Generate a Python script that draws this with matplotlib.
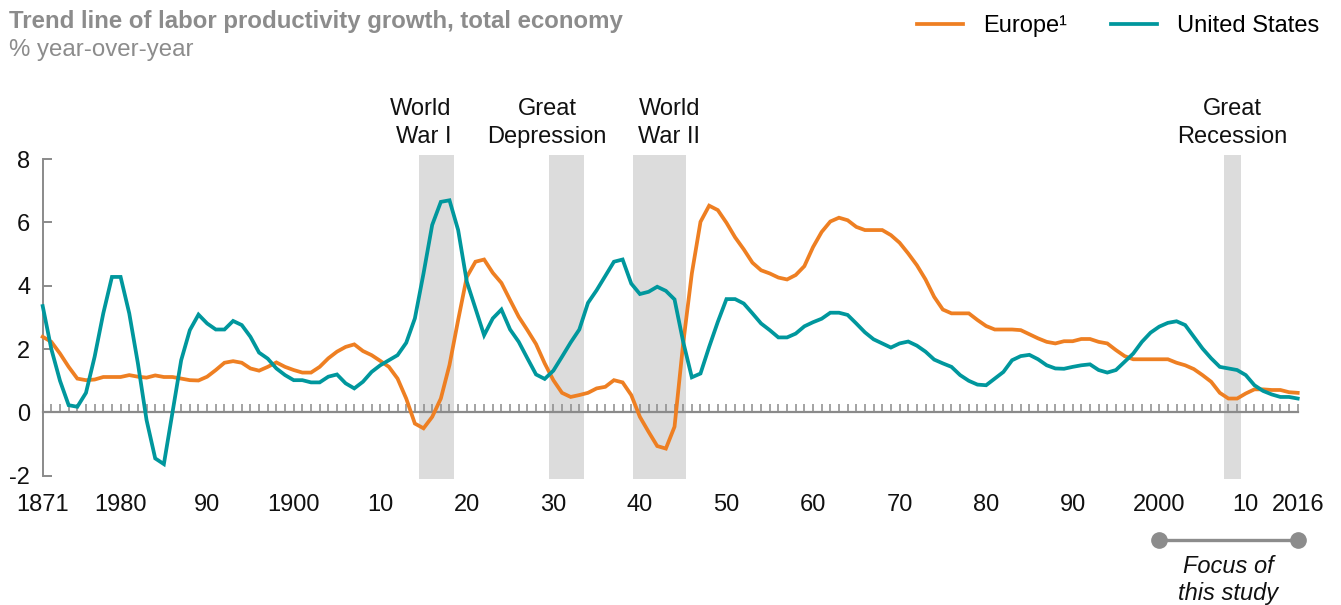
import numpy as np
import matplotlib.pyplot as plt

plt.rcParams['font.family'] = ['Liberation Sans', 'DejaVu Sans']
plt.rcParams['axes.unicode_minus'] = False

# Trend line of labor productivity growth, % year-over-year, 1871-2016
years = np.arange(1871, 2017)

us = [
    3.36, 2.0, 1.0, 0.23, 0.18, 0.62, 1.76, 3.13, 4.28,              # 1871-1879
    4.28, 3.13, 1.55, -0.24, -1.45, -1.63, 0.0, 1.65, 2.6, 3.09,     # 1880s
    2.81, 2.62, 2.62, 2.89, 2.76, 2.39, 1.89, 1.7, 1.39, 1.18,       # 1890s
    1.02, 1.02, 0.95, 0.95, 1.13, 1.2, 0.92, 0.76, 0.97, 1.28,       # 1900s
    1.49, 1.65, 1.81, 2.2, 2.97, 4.39, 5.92, 6.65, 6.7, 5.76,        # 1910s
    4.13, 3.28, 2.44, 2.97, 3.25, 2.62, 2.23, 1.71, 1.2, 1.06,       # 1920s
    1.32, 1.76, 2.21, 2.62, 3.46, 3.86, 4.31, 4.76, 4.83, 4.07,      # 1930s
    3.74, 3.81, 3.97, 3.84, 3.57, 2.23, 1.11, 1.23, 2.07, 2.86,      # 1940s
    3.58, 3.58, 3.44, 3.13, 2.81, 2.6, 2.37, 2.37, 2.49, 2.72,       # 1950s
    2.85, 2.96, 3.15, 3.15, 3.08, 2.81, 2.53, 2.31, 2.18, 2.05,      # 1960s
    2.18, 2.24, 2.11, 1.92, 1.67, 1.55, 1.44, 1.18, 1.0, 0.88,       # 1970s
    0.86, 1.07, 1.28, 1.65, 1.78, 1.82, 1.68, 1.49, 1.39, 1.38,      # 1980s
    1.44, 1.49, 1.52, 1.34, 1.26, 1.34, 1.6, 1.86, 2.23, 2.52,       # 1990s
    2.71, 2.83, 2.88, 2.76, 2.39, 2.02, 1.71, 1.44, 1.39, 1.34,      # 2000s
    1.18, 0.86, 0.68, 0.57, 0.49, 0.49, 0.44,                        # 2010-2016
]

europe = [
    2.39, 2.23, 1.86, 1.44, 1.07, 1.02, 1.04, 1.12, 1.12,            # 1871-1879
    1.12, 1.18, 1.13, 1.10, 1.17, 1.12, 1.12, 1.07, 1.02, 1.01,      # 1880s
    1.13, 1.34, 1.57, 1.62, 1.57, 1.39, 1.32, 1.44, 1.58, 1.44,      # 1890s
    1.34, 1.26, 1.26, 1.44, 1.71, 1.92, 2.07, 2.15, 1.94, 1.81,      # 1900s
    1.63, 1.44, 1.07, 0.44, -0.35, -0.5, -0.14, 0.44, 1.5, 2.92,     # 1910s
    4.28, 4.76, 4.83, 4.41, 4.09, 3.55, 3.02, 2.6, 2.16, 1.55,       # 1920s
    1.02, 0.62, 0.49, 0.55, 0.62, 0.76, 0.81, 1.02, 0.95, 0.55,      # 1930s
    -0.14, -0.61, -1.06, -1.14, -0.45, 2.18, 4.39, 6.02, 6.53, 6.39, # 1940s
    5.99, 5.53, 5.15, 4.73, 4.49, 4.39, 4.26, 4.2, 4.34, 4.62,       # 1950s
    5.22, 5.7, 6.03, 6.15, 6.07, 5.86, 5.76, 5.76, 5.76, 5.6,        # 1960s
    5.36, 5.02, 4.65, 4.2, 3.65, 3.25, 3.13, 3.13, 3.13, 2.92,       # 1970s
    2.73, 2.62, 2.62, 2.62, 2.6, 2.47, 2.34, 2.23, 2.18, 2.25,       # 1980s
    2.25, 2.32, 2.32, 2.23, 2.18, 1.97, 1.78, 1.68, 1.68, 1.68,      # 1990s
    1.68, 1.68, 1.57, 1.49, 1.37, 1.18, 0.97, 0.62, 0.44, 0.44,      # 2000s
    0.6, 0.73, 0.73, 0.71, 0.71, 0.64, 0.62,                         # 2010-2016
]

# shaded periods (start, end) and their labels
event_spans = [(1914.5, 1918.5), (1929.5, 1933.5), (1939.2, 1945.3), (2007.5, 2009.5)]
event_labels = ['World\nWar I', 'Great\nDepression', 'World\nWar II', 'Great\nRecession']
event_label_x = [1914.7, 1929.3, 1943.4, 2008.4]
event_align = ['right', 'center', 'right', 'center']

tick_years = [1871, 1880, 1890, 1900, 1910, 1920, 1930, 1940, 1950,
              1960, 1970, 1980, 1990, 2000, 2010, 2016]
tick_labels = ['1871', '1980', '90', '1900', '10', '20', '30', '40', '50',
               '60', '70', '80', '90', '2000', '10', '2016']

focus_range = [2000, 2016]

orange = '#EE7F22'
teal = '#00979D'
gray = '#8C8C8C'
axis_gray = '#8A8A8A'

fig = plt.figure(figsize=(13.41, 6.05), dpi=100)
ax = fig.add_axes([0.03184, 0.2083, 0.93587, 0.5355])

for (x0, x1) in event_spans:
    ax.axvspan(x0, x1, color='#DCDCDC', lw=0, zorder=0)

ax.plot(years, europe, color=orange, lw=2.7, zorder=4, clip_on=False,
        solid_joinstyle='miter', label='Europe\u00b9')
ax.plot(years, us, color=teal, lw=2.7, zorder=4, clip_on=False,
        solid_joinstyle='miter', label='United States')

ax.set_xlim(1871, 2016)
ax.set_ylim(-2.1, 8.13)

# zero line with one tick per year
ax.spines['bottom'].set_position(('data', 0))
ax.spines['bottom'].set_color(axis_gray)
ax.spines['bottom'].set_linewidth(1.6)
ax.spines['top'].set_visible(False)
ax.spines['right'].set_visible(False)
ax.spines['left'].set_color(axis_gray)
ax.spines['left'].set_linewidth(1.4)
ax.spines['left'].set_bounds(-2, 8)
ax.set_xticks(years)
ax.tick_params(axis='x', direction='in', length=5.8, width=1.1,
               color=axis_gray, labelbottom=False)
ax.set_yticks([-2, 0, 2, 4, 6, 8])
ax.tick_params(axis='y', direction='in', length=6.5, width=1.4,
               color=axis_gray, labelsize=17, pad=9, labelcolor='#111111')

sec = ax.secondary_xaxis('bottom')
sec.set_xticks(tick_years, labels=tick_labels)
sec.spines['bottom'].set_visible(False)
sec.tick_params(length=0, pad=11, labelsize=17, labelcolor='#111111')

for lab, lx, al in zip(event_labels, event_label_x, event_align):
    ax.text(lx, 8.5, lab, ha='center', va='baseline', multialignment=al,
            fontsize=17, color='#111111', linespacing=1.37)

# focus period marker under the axis
ax.plot(focus_range, [-4.03, -4.03], color=gray, lw=2.4, marker='o',
        markersize=11, clip_on=False)
ax.text(np.mean(focus_range), -4.5, 'Focus of\nthis study', ha='center',
        va='top', fontsize=17, style='italic', color='#111111',
        linespacing=1.2)

fig.text(0.0067, 0.9537, 'Trend line of labor productivity growth, total economy',
         fontsize=17.3, fontweight='bold', color=gray, va='baseline')
fig.text(0.0067, 0.9074, '% year-over-year', fontsize=17.3, color=gray,
         va='baseline')

fig.legend(loc='upper right', bbox_to_anchor=(1.0, 1.01), ncol=2,
           frameon=False, fontsize=17, handlelength=1.95, handletextpad=0.85,
           columnspacing=1.9)

fig.savefig('out.png', dpi=100)
